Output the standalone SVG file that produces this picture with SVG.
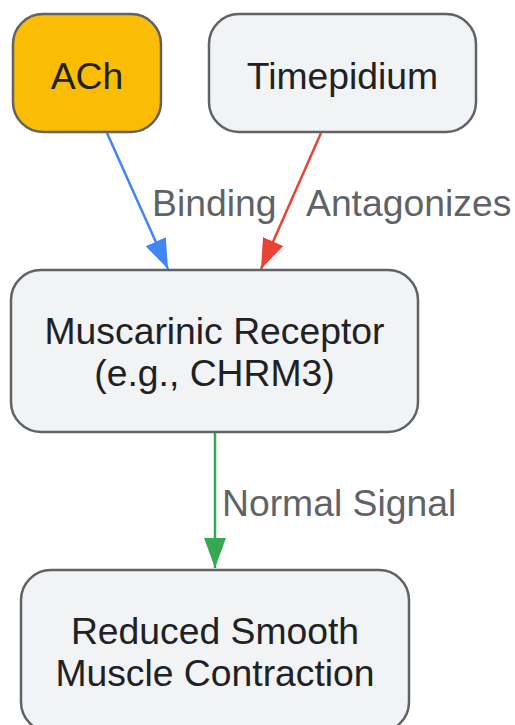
<svg xmlns="http://www.w3.org/2000/svg" width="515" height="725" viewBox="0 0 515 725">
<defs>
<style>
.node{fill:#f1f3f4;stroke:#5f6368;stroke-width:2.5}
.txt{font-family:"Liberation Sans",Arial,sans-serif;font-size:37.3px;fill:#202124;text-anchor:middle}
.lbl{font-family:"Liberation Sans",Arial,sans-serif;font-size:37.3px;fill:#5f6368}
.edge{fill:none;stroke-width:2.5}
</style>
<marker id="ab" markerUnits="userSpaceOnUse" markerWidth="32" markerHeight="24" refX="30" refY="11" orient="auto"><path d="M0,0 L30,11 L0,22 Z" fill="#4285f4"/></marker>
<marker id="ar" markerUnits="userSpaceOnUse" markerWidth="32" markerHeight="24" refX="30" refY="11" orient="auto"><path d="M0,0 L30,11 L0,22 Z" fill="#ea4335"/></marker>
<marker id="ag" markerUnits="userSpaceOnUse" markerWidth="32" markerHeight="24" refX="30" refY="11" orient="auto"><path d="M0,0 L30,11 L0,22 Z" fill="#34a853"/></marker>
</defs>
<rect width="515" height="725" fill="#ffffff"/>
<g id="connectors">
<line class="edge" x1="107" y1="133" x2="168" y2="269" stroke="#4285f4" marker-end="url(#ab)"/>
<line class="edge" x1="321" y1="133" x2="261" y2="269" stroke="#ea4335" marker-end="url(#ar)"/>
<line class="edge" x1="215" y1="432" x2="215" y2="568" stroke="#34a853" marker-end="url(#ag)"/>
<text class="lbl" x="152" y="216">Binding</text>
<text class="lbl" x="306" y="216">Antagonizes</text>
<text class="lbl" x="222" y="516">Normal Signal</text>
</g>
<g id="ach">
<rect x="13" y="14" width="148" height="118" rx="30" fill="#fbbc04" stroke="#5f6368" stroke-width="2.5"/>
<text class="txt" x="87" y="89">ACh</text>
</g>
<g id="timepidium">
<rect class="node" x="209" y="14" width="267" height="118" rx="30"/>
<text class="txt" x="342.5" y="89">Timepidium</text>
</g>
<g id="receptor">
<rect class="node" x="11" y="270" width="407" height="162" rx="30"/>
<text class="txt" x="214.5" y="344">Muscarinic Receptor</text>
<text class="txt" x="214.5" y="386">(e.g., CHRM3)</text>
</g>
<g id="contraction">
<rect class="node" x="21" y="570" width="388" height="162" rx="30"/>
<text class="txt" x="215" y="644">Reduced Smooth</text>
<text class="txt" x="215" y="686">Muscle Contraction</text>
</g>
</svg>
